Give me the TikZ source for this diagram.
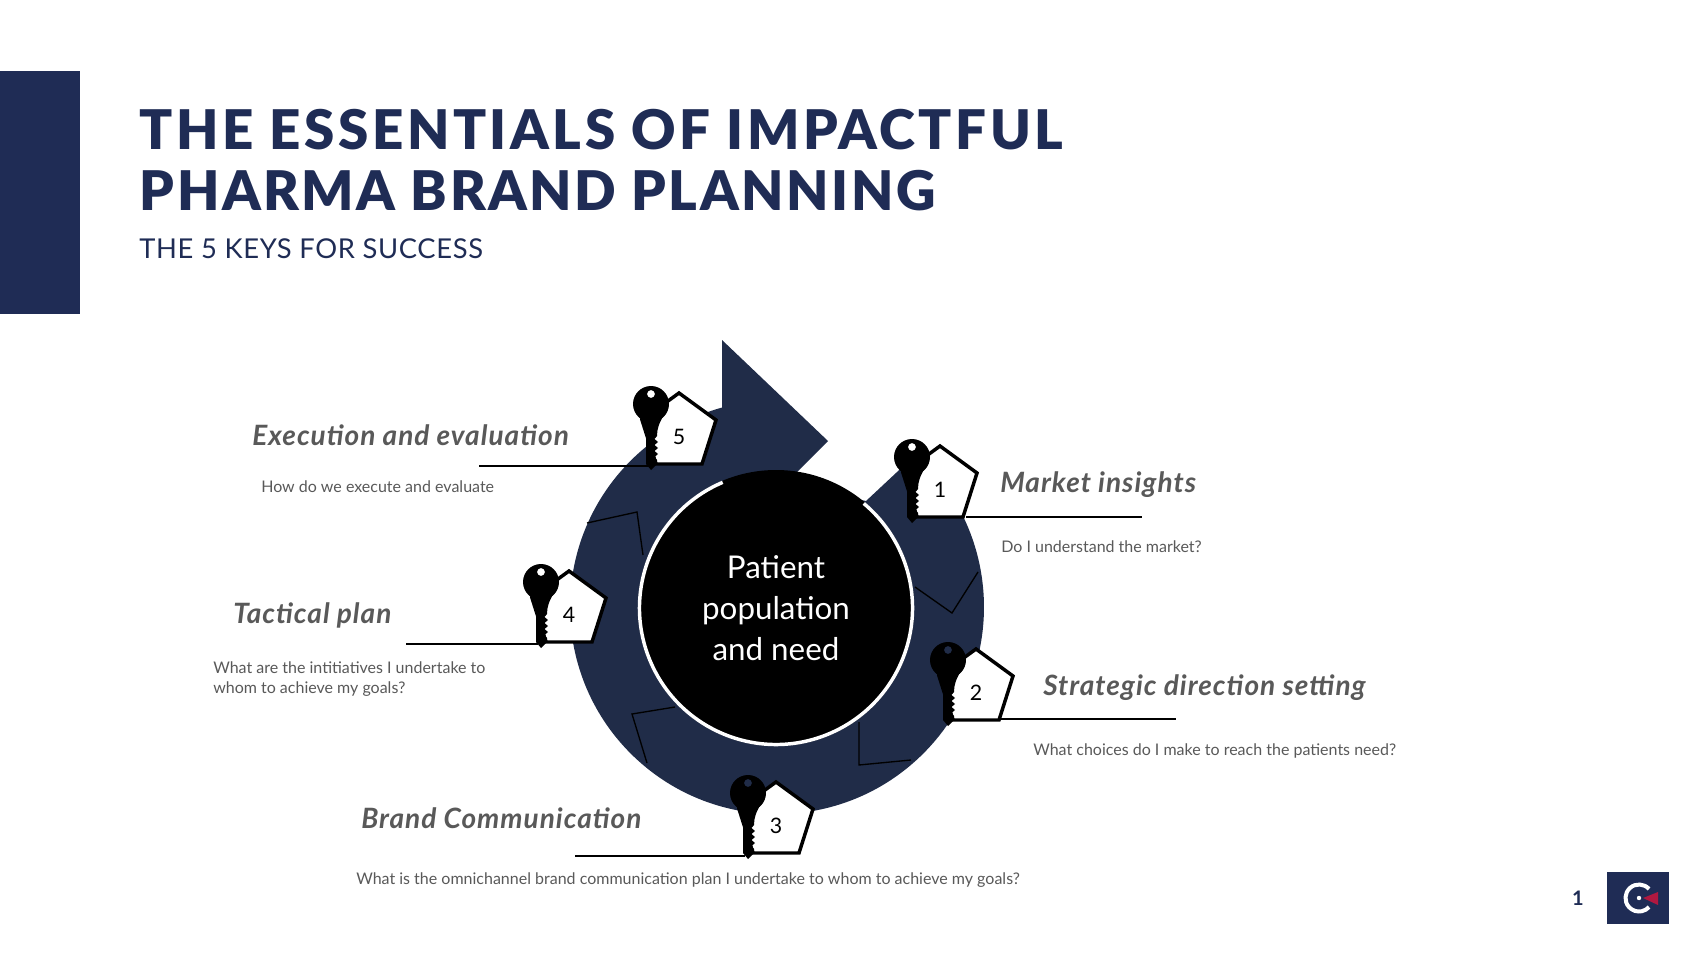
\documentclass[tikz,border=0pt]{standalone}
\usepackage{fontspec}
\setmainfont{Lato}
\newfontfamily\titlefont[LetterSpace=6.4,BoldFont={Lato Black}]{Lato}
\newfontfamily\titlefontb[LetterSpace=4.6,BoldFont={Lato Black}]{Lato}
\newfontfamily\subfont[LetterSpace=2.4]{Lato}
\newfontfamily\keyfont[LetterSpace=3.6]{Lato}
\definecolor{navy}{HTML}{1F2C55}
\definecolor{ring}{HTML}{202C48}
\definecolor{greytext}{HTML}{595959}
\definecolor{redmark}{HTML}{B01840}
\tikzset{
  pent/.style={draw=black,fill=white,line width=2.6pt,line join=miter},
  hair/.style={draw=black,line width=1pt},
  rule/.style={draw=black,line width=0.8pt},
  headline/.style={anchor=base west,inner sep=0pt,text=navy},
  keytitle/.style={anchor=west,inner sep=0pt,text=greytext,font=\fontsize{21}{24}\keyfont\bfseries\itshape},
  keyq/.style={anchor=west,inner sep=0pt,text=greytext,font=\fontsize{12}{15.5}\selectfont,align=left},
  keynum/.style={inner sep=0pt,text=black,font=\fontsize{16}{18}\selectfont}
}
\newcommand{\keymark}[4]{%
  \begin{scope}[shift={(#2,#3)}]
    \draw[pent] (0,0)--(37,27)--(23,71)--(-23,71)--(-37,27)--cycle;
    \fill[black,even odd rule] (-28,11) circle[radius=18] (-28,1) circle[radius=4];
    \fill[black] (-41,22) .. controls (-36,30) and (-33,36) .. (-33,44) -- (-33,71) -- (-28,77)
      -- (-22,71) -- (-22,67) -- (-24.5,64) -- (-21,61) -- (-24.5,58) -- (-21,55) -- (-24.5,52)
      -- (-21,49) -- (-24.5,46) -- (-22,43) .. controls (-22,36) and (-20,30) .. (-15,22) -- cycle;
    \node[keynum] (#1) at (0,44) {#4};
  \end{scope}}
\begin{document}
\begin{tikzpicture}[x=0.75pt,y=-0.75pt]
\useasboundingbox (0,0) rectangle (1707,960);
\fill[white] (0,0) rectangle (1707,960);
% header
\fill[navy] (0,71) rectangle (80,314);
\node[headline,font=\fontsize{41}{41}\titlefont\bfseries] (t1) at (139.5,149) {THE ESSENTIALS OF IMPACTFUL};
\node[headline,font=\fontsize{41}{41}\titlefontb\bfseries] (t2) at (139.5,210) {PHARMA BRAND PLANNING};
\node[headline,font=\fontsize{20.5}{24}\subfont] (st) at (139,258) {THE 5 KEYS FOR SUCCESS};
% ring with arrow, one outline
\fill[ring] (722,340) -- (828,441) -- (785,484) -- (866,501) -- (916.3,454)
  arc[start angle=-407.7,end angle=-105.4,radius=207] -- cycle;
% faint pentagon outlines on the ring
\draw[hair] (587,523) -- (637,512) -- (643,555);
\draw[hair] (915,587) -- (952,613) -- (978,572);
\draw[hair] (675,707) -- (632,714) -- (647,763);
\draw[hair] (859,722) -- (859,765) -- (911,760);
% hub
\node[circle,fill=black,minimum size=207pt,inner sep=0pt,text=white,align=center,font=\fontsize{23.5}{31}\selectfont] (hub) at (776,608) {Patient\\population\\and need};
\draw[white,line width=2.6pt] (hub.center) ++(-113:136.5) arc[start angle=-113,end angle=-410,radius=136.5];
% leader lines
\coordinate (l5a) at (479,466); \coordinate (l5b) at (654,466);
\coordinate (l1a) at (966,517); \coordinate (l1b) at (1142,517);
\coordinate (l2a) at (998,719); \coordinate (l2b) at (1176,719);
\coordinate (l3a) at (575,856); \coordinate (l3b) at (745,856);
\coordinate (l4a) at (406,644); \coordinate (l4b) at (538,644);
\draw[rule] (l5a) -- (l5b);
\draw[rule] (l1a) -- (l1b);
\draw[rule] (l2a) -- (l2b);
\draw[rule] (l3a) -- (l3b);
\draw[rule] (l4a) -- (l4b);
% keys
\keymark{k1}{940}{446}{1}
\keymark{k2}{976}{649}{2}
\keymark{k3}{776}{782}{3}
\keymark{k4}{569}{571}{4}
\keymark{k5}{679}{393}{5}
% labels
\node[keytitle] (a5) at (252,435) {Execution and evaluation};
\node[keyq] (q5) at (261,487) {How do we execute and evaluate};
\node[keytitle] (a1) at (1000,485) {Market insights};
\node[keyq] (q1) at (1001,547) {Do I understand the market?};
\node[keytitle] (a2) at (1043,688) {Strategic direction setting};
\node[keyq] (q2) at (1033,751) {What choices do I make to reach the patients need?};
\node[keytitle] (a3) at (361,818) {Brand Communication};
\node[keyq] (q3) at (356,880) {What is the omnichannel brand communication plan I undertake to whom to achieve my goals?};
\node[keytitle] (a4) at (233,615) {Tactical plan};
\node[keyq] (q4) at (213,679) {What are the intitiatives I undertake to\\whom to achieve my goals?};
% footer
\node[inner sep=0pt,text=navy,font=\fontsize{15}{18}\selectfont\bfseries] (pg) at (1578,898) {1};
\fill[navy] (1607,872) rectangle (1669,924);
\draw[white,line width=3pt] (1639,898) ++(-42:13.5) arc[start angle=-42,end angle=-318,radius=13.5];
\fill[white] (1639,898) circle[radius=2.2];
\fill[redmark] (1643,898) -- (1658,892) -- (1658,905) -- cycle;
\end{tikzpicture}
\end{document}
